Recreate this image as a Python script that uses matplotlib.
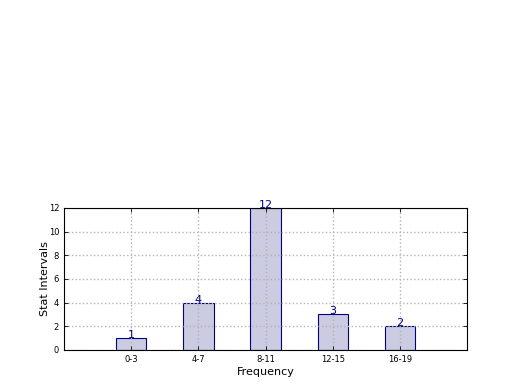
import numpy as np
import matplotlib
matplotlib.use('Agg')
import matplotlib.pyplot as plt

# intervalos e contagens
intervalos = ['0-3', '4-7', '8-11', '12-15', '16-19']
contagens = [1, 4, 12, 3, 2]

fig = plt.figure(figsize=(5.2, 3.9), dpi=100)
ax = fig.add_axes([0.123, 0.1026, 0.7755, 0.3641])

pos = np.arange(len(intervalos))
barras = ax.bar(pos, contagens, width=0.45, color='#cbcbe2', edgecolor='navy', linewidth=0.8, zorder=1)

# rotulos acima das barras
for b, v in zip(barras, contagens):
    ax.text(b.get_x() + b.get_width() / 2.0, b.get_height(), str(v),
            ha='center', va='baseline', color='navy', fontsize=8, zorder=4)

ax.set_xlim(-1, 5)
ax.set_ylim(0, 12)
ax.set_xticks(pos)
ax.set_xticklabels(intervalos, fontsize=6)
ax.set_yticks(range(0, 13, 2))
ax.tick_params(axis='y', labelsize=6)
ax.tick_params(direction='in', top=True, right=True, length=3, width=0.6)
ax.set_axisbelow(False)
ax.grid(True, linestyle=':', color='#b4b4b4', linewidth=1.0, zorder=2)
for s in ax.spines.values():
    s.set_linewidth(0.8)
    s.set_zorder(3)
ax.set_xlabel('Frequency', fontsize=8, labelpad=2)
ax.set_ylabel('Stat Intervals', fontsize=8, labelpad=-1)

fig.savefig('out.png', dpi=100)
